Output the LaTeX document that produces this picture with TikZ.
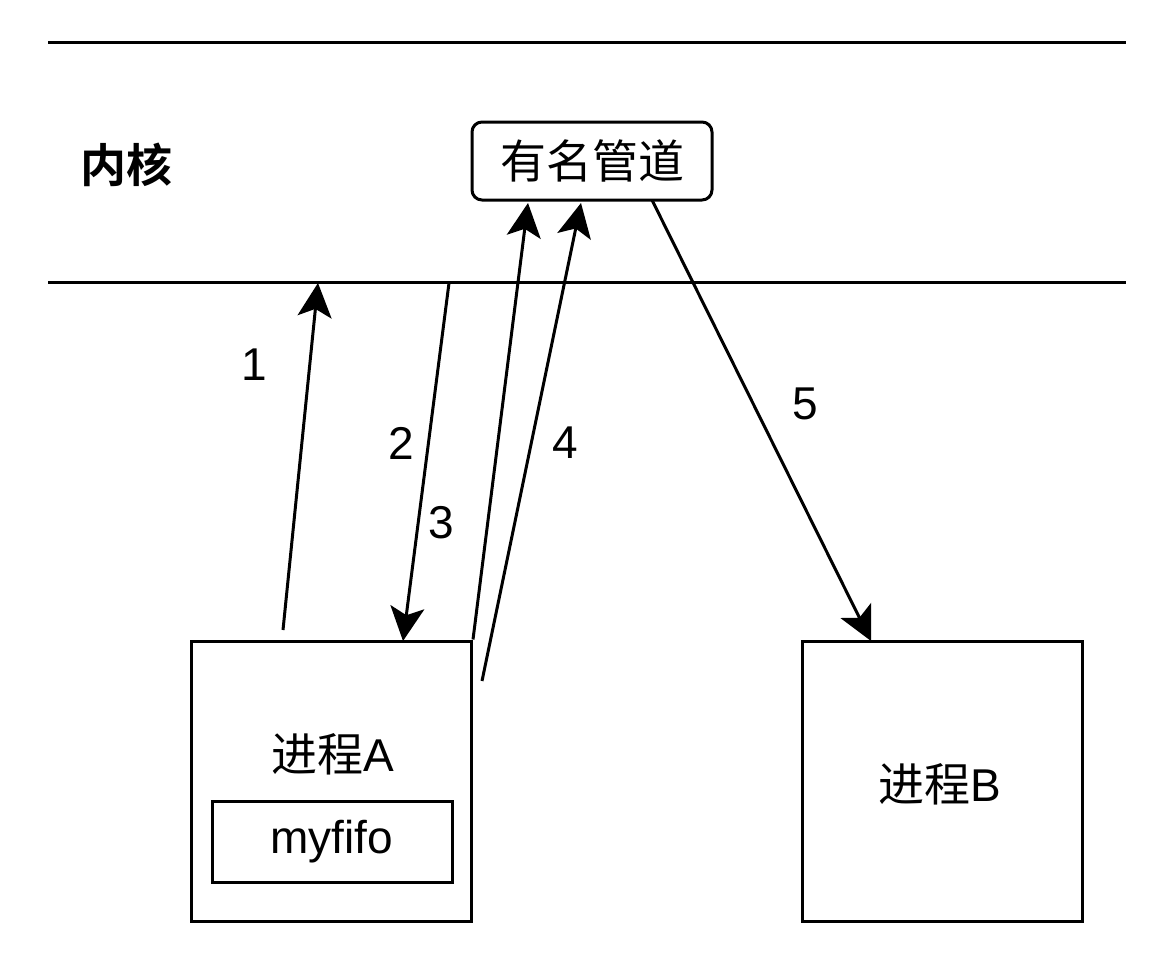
\documentclass[tikz,border=0pt]{standalone}
\usepackage{fontspec}
\setmainfont{Liberation Sans}
\newfontfamily\cjk{Noto Sans CJK SC}[BoldFont={Noto Sans CJK SC Bold}]
\usepackage{tikz}
\usetikzlibrary{arrows.meta, positioning}

\begin{document}
\begin{tikzpicture}[
            x=0.5pt, y=-0.5pt,
            line width=1.5pt,
            every node/.style={font=\fontsize{23}{28}\selectfont},
            procbox/.style={draw, minimum width=140pt, minimum height=140pt, inner sep=0pt},
            pipebox/.style={draw, rounded corners=5pt, minimum width=120pt, minimum height=39pt, inner sep=0pt},
            fifobox/.style={draw, minimum width=120pt, minimum height=40.5pt, inner sep=0pt},
            arrow/.style={-{Stealth[length=17pt, width=17pt, inset=4pt]}}
        ]
        \useasboundingbox (0,0) rectangle (1168,964);

        % --- kernel boundaries ---
        \coordinate (topL) at (48,42);
        \coordinate (topR) at (1126,42);
        \coordinate (midL) at (48,282);
        \coordinate (midR) at (1126,282);
        \draw (topL)--(topR);
        \draw (midL)--(midR);
        \node[font=\fontsize{23}{28}\selectfont\bfseries] (kernel) at (126,165) {\cjk 内核};

        % --- named pipe ---
        \node[pipebox] (pipe) at (592,161) {\cjk 有名管道};

        % --- processes ---
        \node[procbox] (procA) at (331.5,781) {};
        \node (nameA) at (333,754) {{\cjk 进程}A};
        \node[fifobox] (fifo) at (332,841.5) {myfifo};
        \node[procbox] (procB) at (942,781) {};
        \node (nameB) at (940,784) {{\cjk 进程}B};

        % --- arrow end points ---
        \coordinate (s1) at (283,630);
        \coordinate (e1) at (318,283);
        \coordinate (s2) at (449,283);
        \coordinate (e2) at (403,641);
        \coordinate (e3) at (528,203);
        \coordinate (s4) at (482,681);
        \coordinate (e4) at (581,203);
        \coordinate (s5) at (652,200);
        \coordinate (e5) at (871,641);

        % --- arrows ---
        \draw[arrow] (s1)--(e1);
        \draw[arrow] (s2)--(e2);
        \draw[arrow] (procA.north east)--(e3);
        \draw[arrow] (s4)--(e4);
        \draw[arrow] (s5)--(e5);

        % --- step labels ---
        \node (l1) at (254,365) {1};
        \node (l2) at (401,443) {2};
        \node (l3) at (441,523) {3};
        \node (l4) at (565,443) {4};
        \node (l5) at (805,404) {5};
        \end{tikzpicture}
\end{document}
